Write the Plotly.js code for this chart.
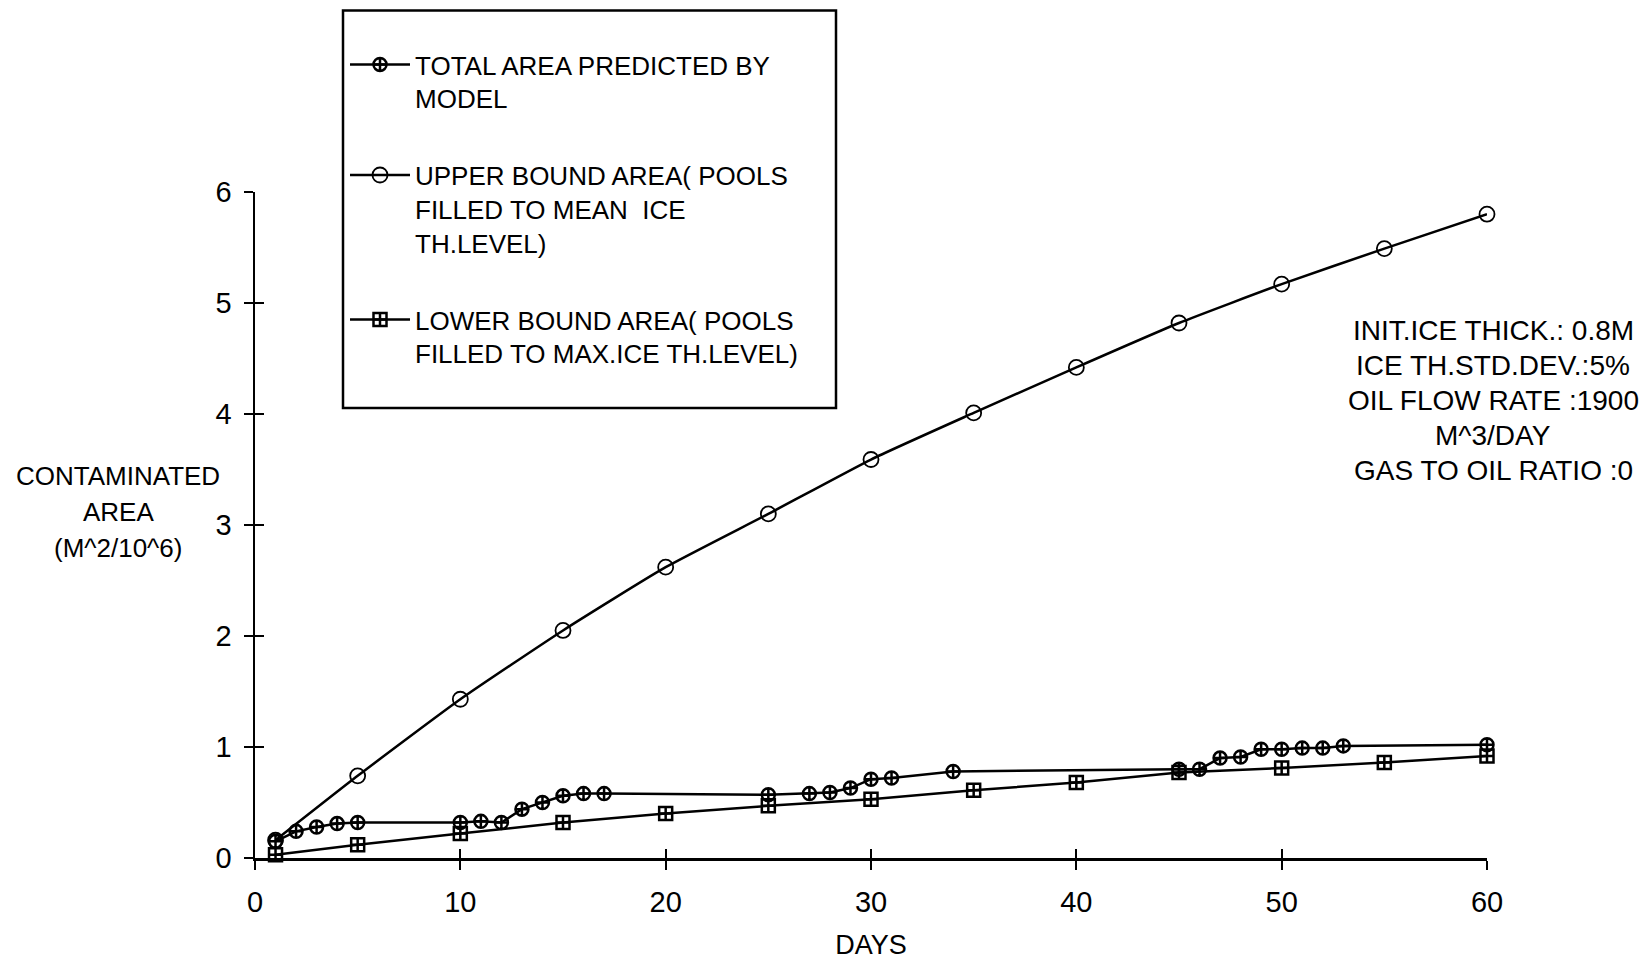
<!DOCTYPE html>
<html>
<head>
<meta charset="utf-8">
<script src="https://cdn.plot.ly/plotly-3.0.1.min.js"></script>
<style>html,body{margin:0;padding:0;background:#fff;}#chart{width:1649px;height:960px;}</style>
</head>
<body>
<div id="chart"></div>
<script>
// ---- data ----
const totalDays = [1,2,3,4,5,10,11,12,13,14,15,16,17,25,27,28,29,30,31,34,45,46,47,48,49,50,51,52,53,60];
const totalArea = [0.15,0.24,0.28,0.31,0.32,0.32,0.33,0.32,0.44,0.50,0.56,0.58,0.58,0.57,0.58,0.59,0.63,0.71,0.72,0.78,0.80,0.80,0.90,0.91,0.98,0.98,0.99,0.99,1.01,1.02];
const upperDays = [1,5,10,15,20,25,30,35,40,45,50,55,60];
const upperArea = [0.16,0.74,1.43,2.05,2.62,3.10,3.59,4.01,4.42,4.82,5.17,5.49,5.80];
const lowerDays = [1,5,10,15,20,25,30,35,40,45,50,55,60];
const lowerArea = [0.03,0.12,0.22,0.32,0.40,0.47,0.53,0.61,0.68,0.77,0.81,0.86,0.92];
const seriesNames = [
  'TOTAL AREA PREDICTED BY<br>MODEL',
  'UPPER BOUND AREA( POOLS<br>FILLED TO MEAN  ICE<br>TH.LEVEL)',
  'LOWER BOUND AREA( POOLS<br>FILLED TO MAX.ICE TH.LEVEL)'
];
const xTickVals = [0,10,20,30,40,50,60];
const yTickVals = [0,1,2,3,4,5,6];
const yTitleLines = ['CONTAMINATED','AREA','(M^2/10^6)'];
const infoLines = ['INIT.ICE THICK.: 0.8M','ICE TH.STD.DEV.:5%','OIL FLOW RATE :1900','M^3/DAY','GAS TO OIL RATIO :0'];

// ---- layout geometry (pixels) ----
const W = 1649, H = 960;
const M = {l:255, r:162, t:192, b:102};
const PW = W - M.l - M.r, PH = H - M.t - M.b;
const px = X => (X - M.l) / PW;
const py = Y => (H - M.b - Y) / PH;
const FONT = 'Liberation Sans, Arial, sans-serif';

const lineStyle = {color:'black', width:2.5};
const traces = [
  {x: totalDays, y: totalArea, name: seriesNames[0], legendgroup:'g1', mode:'lines+markers',
   line: lineStyle, cliponaxis:false,
   marker:{symbol:'circle-cross-open', size:13, color:'black', line:{color:'black', width:2.5}}},
  {x: upperDays, y: upperArea, name: seriesNames[1], legendgroup:'g2', mode:'lines+markers',
   line: Object.assign({shape:'spline', smoothing:0.5}, lineStyle), cliponaxis:false,
   marker:{symbol:'circle-open', size:15, color:'black', line:{color:'black', width:1.8}}},
  {x: lowerDays, y: lowerArea, name: seriesNames[2], legendgroup:'g3', mode:'lines+markers',
   line: lineStyle, cliponaxis:false,
   marker:{symbol:'square-cross-open', size:13, color:'black', line:{color:'black', width:2.5}}},
  {x: [], y: [], xaxis:'x2', yaxis:'y', showlegend:false, hoverinfo:'skip'},
  {x: [], y: [], xaxis:'x', yaxis:'y2', showlegend:false, hoverinfo:'skip'}
];

const annotations = [];
yTitleLines.forEach((t, i) => annotations.push({
  text: t, xref:'paper', yref:'paper', x: px(118), y: py(476 + i*36),
  xanchor:'center', yanchor:'middle', showarrow:false, font:{size:26, family:FONT, color:'black'}
}));
infoLines.forEach((t, i) => annotations.push({
  text: t, xref:'paper', yref:'paper', x: px(1493), y: py(330 + i*35),
  xanchor:'center', yanchor:'middle', showarrow:false, font:{size:28, family:FONT, color:'black'}
}));

const layout = {
  width: W, height: H, margin: M,
  paper_bgcolor:'white', plot_bgcolor:'white',
  font:{family:FONT, color:'black'},
  showlegend:true,
  legend:{x: px(345), y: py(41), xanchor:'left', yanchor:'top', valign:'top', bgcolor:'rgba(0,0,0,0)',
          borderwidth:0, font:{size:26, family:FONT, color:'black'}, tracegroupgap:40, itemwidth:60},
  xaxis:{range:[0,60], tickvals:xTickVals, ticks:'outside', ticklen:9, tickwidth:2, tickcolor:'black',
         showline:true, linewidth:2.5, linecolor:'black', showgrid:false, zeroline:false,
         tickfont:{size:29, family:FONT}, ticklabelstandoff:8,
         title:{text:'DAYS', font:{size:27, family:FONT}, standoff:18}},
  yaxis:{range:[0,6], tickvals:yTickVals, ticks:'outside', ticklen:9, tickwidth:2, tickcolor:'black',
         showline:true, linewidth:2.5, linecolor:'black', showgrid:false, zeroline:false,
         tickfont:{size:29, family:FONT}, ticklabelstandoff:6},
  xaxis2:{overlaying:'x', anchor:'y', side:'bottom', range:[0,60], tickvals:xTickVals, ticks:'inside',
          ticklen:9, tickwidth:2, tickcolor:'black', showticklabels:false, showgrid:false, zeroline:false, showline:false},
  yaxis2:{overlaying:'y', anchor:'x', side:'left', range:[0,6], tickvals:yTickVals, ticks:'inside',
          ticklen:9, tickwidth:2, tickcolor:'black', showticklabels:false, showgrid:false, zeroline:false, showline:false},
  shapes:[{type:'rect', xref:'paper', yref:'paper', x0:px(343), x1:px(836), y0:py(408), y1:py(10.5),
           line:{color:'black', width:2.5}, fillcolor:'rgba(0,0,0,0)'}],
  annotations: annotations
};

Plotly.newPlot('chart', traces, layout, {staticPlot:true, displayModeBar:false});
</script>
</body>
</html>
